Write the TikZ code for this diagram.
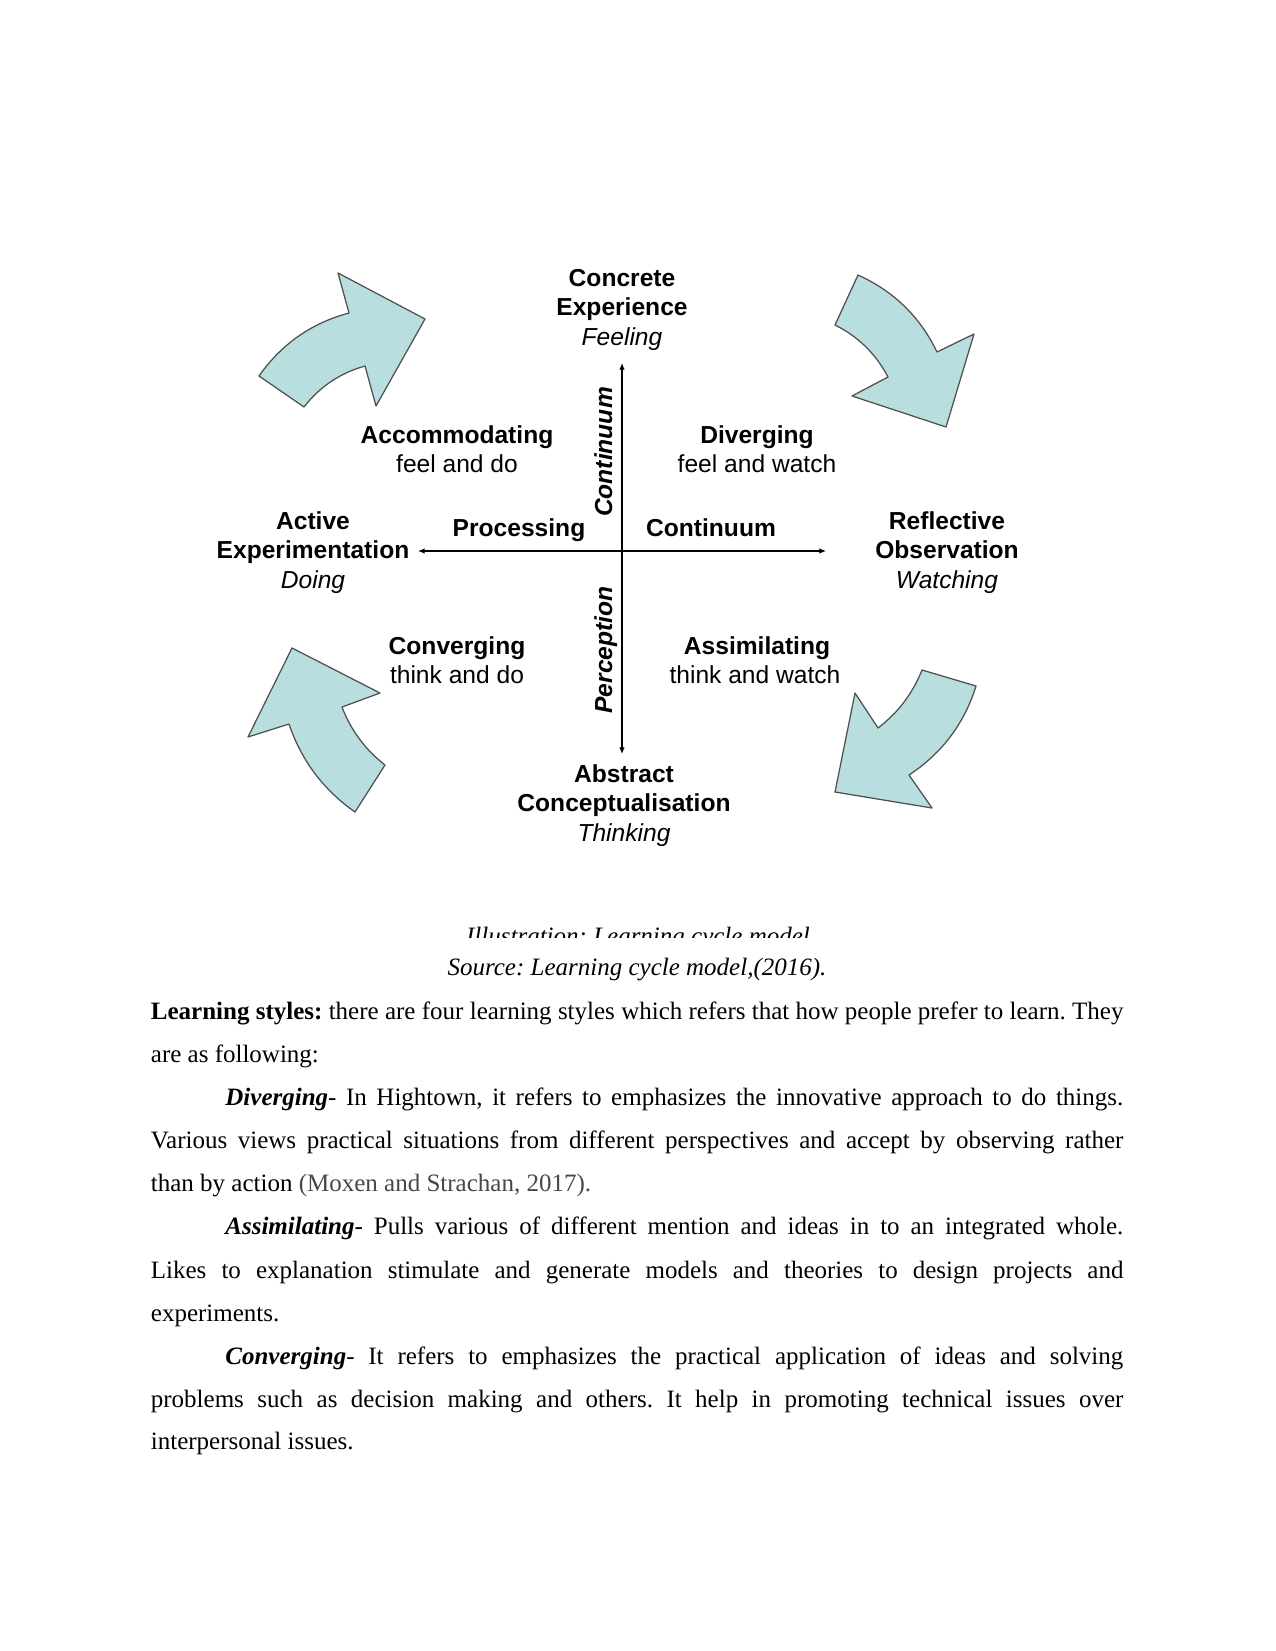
\documentclass[tikz,border=0pt]{standalone}
\usepackage{fontspec}
\setmainfont{Liberation Serif}
\newfontfamily\arialfont{Liberation Sans}
\usetikzlibrary{arrows.meta}
\definecolor{cycfill}{RGB}{185,222,224}
\definecolor{cycedge}{RGB}{80,80,80}
\definecolor{citegray}{RGB}{72,72,72}
\newcommand{\jline}[2]{\makebox[#1][s]{#2}}
\frenchspacing
\begin{document}
\begin{tikzpicture}[x=0.48pt,y=-0.48pt,
  cyclab/.style={font=\arialfont\fontsize{11.8}{14}\selectfont\bfseries, anchor=base, inner sep=0pt},
  cycsub/.style={font=\arialfont\fontsize{11.8}{14}\selectfont, anchor=base, inner sep=0pt},
  cycit/.style={font=\arialfont\fontsize{11.8}{14}\selectfont\itshape, anchor=base, inner sep=0pt},
  bodyline/.style={font=\fontsize{12}{14}\selectfont, anchor=base west, inner sep=0pt},
  capline/.style={font=\fontsize{12}{14}\selectfont\itshape, anchor=base, inner sep=0pt},
  cycarrow/.style={fill=cycfill, draw=cycedge, line width=0.6pt, line join=round},
  axisline/.style={line width=0.5pt, {Latex[length=3.2pt,width=2.6pt]}-{Latex[length=3.2pt,width=2.6pt]}}
]
\useasboundingbox (0,0) rectangle (1275,1651);
\fill[white] (0,0) rectangle (1275,1651);

% cycle arrows
\path[cycarrow] (259,376) .. controls (281.4,344.1) and (311.4,323.1) .. (349,313) -- (338,273) -- (425,319) -- (376,406) -- (365,366) .. controls (340.2,373) and (319.8,386.6) .. (304,407) -- cycle;
\path[cycarrow] (858,275) .. controls (893.6,291.1) and (920,316.7) .. (937,352) -- (974,334) -- (946,427) -- (852,396) -- (888,377) .. controls (875.9,354) and (858.3,336.6) .. (835,325) -- cycle;
\path[cycarrow] (292,648) -- (380,693) -- (342,707) .. controls (350.9,730.3) and (365.3,749.7) .. (385,765) -- (355,812) .. controls (323.4,789.9) and (301.4,760.5) .. (289,724) -- (248,737) -- cycle;
\path[cycarrow] (922,670) -- (976,686) .. controls (964.3,723.7) and (941.9,753.3) .. (909,775) -- (932,808) -- (835,792) -- (855,693) -- (878,728) .. controls (898.1,712.7) and (912.7,693.3) .. (922,670) -- cycle;

% axes
\coordinate (vtop) at (622,363);
\coordinate (vbot) at (622,754);
\coordinate (hleft) at (418,551);
\coordinate (hright) at (826,551);
\draw[axisline] (vbot) -- (vtop);
\draw[axisline] (hleft) -- (hright);

% labels
\node[cyclab] (ce1) at (622,286) {Concrete};
\node[cyclab] (ce2) at (622,315.5) {Experience};
\node[cycit]  (ce3) at (622,345) {Feeling};

\node[cyclab] (acc1) at (457,443) {Accommodating};
\node[cycsub] (acc2) at (457,472.5) {feel and do};
\node[cyclab] (div1) at (757,443) {Diverging};
\node[cycsub] (div2) at (757,472.5) {feel and watch};

\node[cyclab] (ae1) at (313,529) {Active};
\node[cyclab] (ae2) at (313,558.5) {Experimentation};
\node[cycit]  (ae3) at (313,588) {Doing};

\node[cyclab] (ro1) at (947,529) {Reflective};
\node[cyclab] (ro2) at (947,558.5) {Observation};
\node[cycit]  (ro3) at (947,588) {Watching};

\node[cyclab] (proc) at (519,536) {Processing};
\node[cyclab] (hcont) at (711,536) {Continuum};
\node[cyclab, rotate=90] (vcont) at (612,452) {\itshape Continuum};
\node[cyclab, rotate=90] (perc) at (612,650) {\itshape Perception};

\node[cyclab] (con1) at (457,654) {Converging};
\node[cycsub] (con2) at (457,683.5) {think and do};
\node[cyclab] (ass1) at (757,654) {Assimilating};
\node[cycsub] (ass2) at (755,683.5) {think and watch};

\node[cyclab] (ac1) at (624,782) {Abstract};
\node[cyclab] (ac2) at (624,811.5) {Conceptualisation};
\node[cycit]  (ac3) at (624,841) {Thinking};

% captions
\begin{scope}
\clip (0,900) rectangle (1275,937);
\node[capline] (ill) at (638,944) {Illustration: Learning cycle model};
\end{scope}
\node[capline] (src) at (637,975) {Source: Learning cycle model,(2016).};

% body text
\node[bodyline] (b1) at (150.5,1019) {\jline{466.8pt}{\textbf{Learning styles:} there are four learning styles which refers that how people prefer to learn. They}};
\node[bodyline] (b2) at (150.5,1062) {are as following:};
\node[bodyline] (b3) at (225,1105) {\jline{431pt}{\textbf{\textit{Diverging}}- In Hightown, it refers to emphasizes the innovative approach to do things.}};
\node[bodyline] (b4) at (150.5,1148) {\jline{466.8pt}{Various views practical situations from different perspectives and accept by observing rather}};
\node[bodyline] (b5) at (150.5,1191) {than by action \textcolor{citegray}{(Moxen and Strachan, 2017).}};
\node[bodyline] (b6) at (225,1234) {\jline{431pt}{\textbf{\textit{Assimilating}}- Pulls various of different mention and ideas in to an integrated whole.}};
\node[bodyline] (b7) at (150.5,1278) {\jline{466.8pt}{Likes to explanation stimulate and generate models and theories to design projects and}};
\node[bodyline] (b8) at (150.5,1321) {experiments.};
\node[bodyline] (b9) at (225,1364) {\jline{431pt}{\textbf{\textit{Converging}}- It refers to emphasizes the practical application of ideas and solving}};
\node[bodyline] (b10) at (150.5,1407) {\jline{466.8pt}{problems such as decision making and others. It help in promoting technical issues over}};
\node[bodyline] (b11) at (150.5,1449) {interpersonal issues.};
\end{tikzpicture}
\end{document}
